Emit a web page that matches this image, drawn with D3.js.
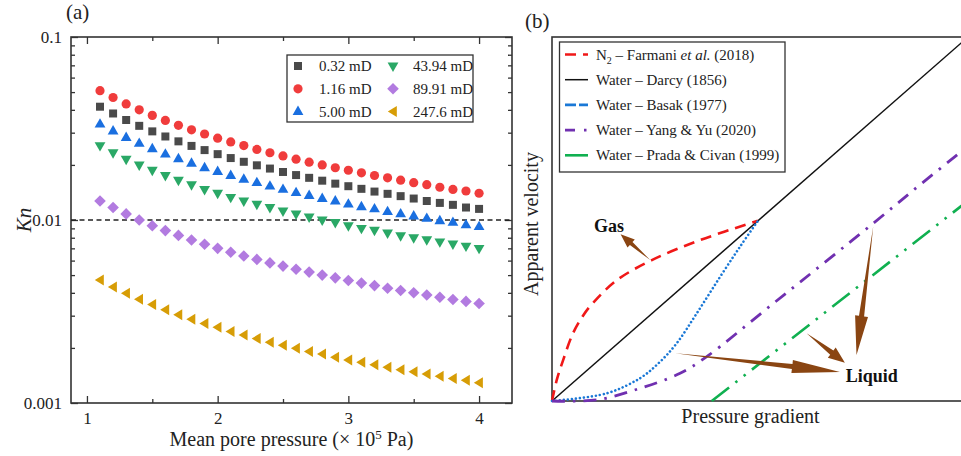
<!DOCTYPE html>
<html><head><meta charset="utf-8">
<script src="https://cdn.jsdelivr.net/npm/d3@7"></script>
<style>
html,body{margin:0;padding:0;background:#fff;}
svg{display:block;font-family:"Liberation Serif","Times New Roman",serif;}
</style></head>
<body>
<svg id="chart" width="961" height="456"></svg>
<script>
// ---------- Panel (a) data ----------
const pressure = [1.1,1.2,1.3,1.4,1.5,1.6,1.7,1.8,1.9,2.0,2.1,2.2,2.3,2.4,2.5,2.6,2.7,2.8,2.9,3.0,3.1,3.2,3.3,3.4,3.5,3.6,3.7,3.8,3.9,4.0];
const seriesLabels = ["0.32 mD","1.16 mD","5.00 mD","43.94 mD","89.91 mD","247.6 mD"];
const kn_032 = [0.0416,0.0382,0.0352,0.0327,0.0305,0.0286,0.0269,0.0254,0.0241,0.0229,0.0218,0.0208,0.0199,0.0191,0.0183,0.0176,0.0170,0.0164,0.0158,0.0153,0.0148,0.0143,0.0139,0.0135,0.0131,0.0127,0.0124,0.0121,0.0117,0.0115];
const kn_116 = [0.0509,0.0467,0.0431,0.0400,0.0373,0.0350,0.0329,0.0311,0.0295,0.0280,0.0267,0.0255,0.0243,0.0233,0.0224,0.0215,0.0207,0.0200,0.0193,0.0187,0.0181,0.0175,0.0170,0.0165,0.0160,0.0156,0.0151,0.0147,0.0144,0.0140];
const kn_500 = [0.0334,0.0306,0.0282,0.0262,0.0245,0.0229,0.0216,0.0204,0.0193,0.0184,0.0175,0.0167,0.0160,0.0153,0.0147,0.0141,0.0136,0.0131,0.0127,0.0122,0.0118,0.0115,0.0111,0.0108,0.0105,0.0102,0.0099,0.0097,0.0094,0.0092];
const kn_4394 = [0.0255,0.0233,0.0215,0.0200,0.0187,0.0175,0.0165,0.0156,0.0147,0.0140,0.0133,0.0127,0.0122,0.0117,0.0112,0.0108,0.0104,0.0100,0.0097,0.0093,0.0090,0.0088,0.0085,0.0082,0.0080,0.0078,0.0076,0.0074,0.0072,0.0070];
const kn_8991 = [0.0127,0.0117,0.0108,0.0100,0.0093,0.00875,0.00824,0.00778,0.00737,0.0070,0.00667,0.00636,0.00609,0.00583,0.0056,0.00538,0.00519,0.0050,0.00483,0.00467,0.00452,0.00438,0.00424,0.00412,0.0040,0.00389,0.00378,0.00368,0.00359,0.0035];
const kn_2476 = [0.0047,0.00431,0.00398,0.00369,0.00345,0.00323,0.00304,0.00287,0.00272,0.00259,0.00246,0.00235,0.00225,0.00215,0.00207,0.00199,0.00191,0.00185,0.00178,0.00172,0.00167,0.00162,0.00157,0.00152,0.00148,0.00144,0.0014,0.00136,0.00133,0.00129];
const seriesValues = [kn_032, kn_116, kn_500, kn_4394, kn_8991, kn_2476];
const seriesColors = ["#4a4a4a","#f03c3c","#1a6fe0","#2aa866","#b27be0","#d79d06"];
const seriesShapes = ["square","circle","triUp","triDown","diamond","triLeft"];
const xTicksA = [1,2,3,4];
const xMinorA = [1.5,2.5,3.5];
const yTicksA = [0.001,0.01,0.1];
const yTickLabelsA = ["0.001","0.01","0.1"];
const knThreshold = 0.01;

// ---------- Panel (b) data (normalised, schematic) ----------
const bLabels = ["Farmani","Darcy","Basak","YangYu","Prada"];
const farmaniN2 = [[0,0],[0.012,0.06],[0.027,0.113],[0.05,0.185],[0.075,0.235],[0.099,0.27],[0.156,0.332],[0.24,0.387],[0.356,0.442],[0.495,0.495]];
const darcyWater = [[0,0],[1,1]];
const basakWater = [[0,0],[0.131,0.021],[0.212,0.063],[0.26,0.108],[0.3,0.159],[0.348,0.241],[0.404,0.341],[0.452,0.424],[0.495,0.495]];
const yangYuWater = [[0,0],[0.107,0.003],[0.212,0.035],[0.308,0.076],[0.372,0.122],[0.532,0.268],[0.772,0.488],[0.889,0.598],[1.0,0.70]];
const pradaCivanWater = [[0.384,0],[1.0,0.55]];
// annotation arrows: [tail, tip] in panel-(b) data units
const gasArrows = [[[0.236,0.387],[0.165,0.458]]];
const liquidArrows = [[[0.296,0.131],[0.692,0.080]],[[0.612,0.186],[0.704,0.105]],[[0.772,0.479],[0.732,0.126]]];
const gasLabelPos = [0.101,0.464];
const liquidLabelPos = [0.706,0.053];

const svg = d3.select("#chart");
svg.append("rect").attr("width",961).attr("height",456).attr("fill","#fff");
const axisColor = "#333";

// ============ PANEL (a) ============
const L=71, R=512, T=37, B=403;
const xA = d3.scaleLinear().domain([0.878, 4.252]).range([L, R]);
const yA = d3.scaleLog().domain([0.001, 0.1]).range([B, T]);
const gA = svg.append("g");

function styleAxis(g){
  g.select(".domain").remove();
  g.selectAll(".tick line").attr("stroke",axisColor).attr("stroke-width",1.3);
  g.selectAll(".tick text").attr("fill","#222").attr("font-family",'"Liberation Serif","Times New Roman",serif').attr("font-size",17);
}
gA.append("g").attr("transform",`translate(0,${B})`)
  .call(d3.axisBottom(xA).tickValues(xTicksA).tickFormat(d3.format("d")).tickSizeInner(-7).tickSizeOuter(0).tickPadding(9))
  .call(styleAxis);
gA.append("g").attr("transform",`translate(0,${B})`)
  .call(d3.axisBottom(xA).tickValues(xMinorA).tickFormat("").tickSizeInner(-4).tickSizeOuter(0)).call(styleAxis);
gA.append("g").attr("transform",`translate(0,${T})`)
  .call(d3.axisTop(xA).tickValues(xTicksA).tickFormat("").tickSizeInner(-7).tickSizeOuter(0)).call(styleAxis);
gA.append("g").attr("transform",`translate(0,${T})`)
  .call(d3.axisTop(xA).tickValues(xMinorA).tickFormat("").tickSizeInner(-4).tickSizeOuter(0)).call(styleAxis);
const yMinorA = [];
[0.001,0.01].forEach(dec=>{for(let k=2;k<=9;k++) yMinorA.push(dec*k);});
gA.append("g").attr("transform",`translate(${L},0)`)
  .call(d3.axisLeft(yA).tickValues(yTicksA).tickFormat((d,i)=>yTickLabelsA[i]).tickSizeInner(-7).tickSizeOuter(0).tickPadding(9))
  .call(styleAxis);
gA.append("g").attr("transform",`translate(${L},0)`)
  .call(d3.axisLeft(yA).tickValues(yMinorA).tickFormat("").tickSizeInner(-4).tickSizeOuter(0)).call(styleAxis);
gA.append("g").attr("transform",`translate(${R},0)`)
  .call(d3.axisRight(yA).tickValues(yTicksA).tickFormat("").tickSizeInner(-7).tickSizeOuter(0)).call(styleAxis);
gA.append("g").attr("transform",`translate(${R},0)`)
  .call(d3.axisRight(yA).tickValues(yMinorA).tickFormat("").tickSizeInner(-4).tickSizeOuter(0)).call(styleAxis);
gA.append("rect").attr("x",L).attr("y",T).attr("width",R-L).attr("height",B-T)
  .attr("fill","none").attr("stroke",axisColor).attr("stroke-width",1.6);
gA.append("line").attr("x1",L).attr("x2",R).attr("y1",yA(knThreshold)).attr("y2",yA(knThreshold))
  .attr("stroke","#222").attr("stroke-width",1.3).attr("stroke-dasharray","5,3.5");

const shapePath = {
  square: "M-4,-4H4V4H-4Z",
  circle: "M4.6,0A4.6,4.6 0 1,1 -4.6,0A4.6,4.6 0 1,1 4.6,0Z",
  triUp: "M0,-6L5.4,3.4L-5.4,3.4Z",
  triDown: "M0,6L5.4,-3.4L-5.4,-3.4Z",
  diamond: "M0,-5.8L5.8,0L0,5.8L-5.8,0Z",
  triLeft: "M-5.2,0L3.8,-5.5L3.8,5.5Z"
};
seriesValues.forEach((vals,si)=>{
  gA.append("g").selectAll("path").data(vals).join("path")
    .attr("d",shapePath[seriesShapes[si]])
    .attr("transform",(d,i)=>`translate(${xA(pressure[i])},${yA(d)})`)
    .attr("fill",seriesColors[si]);
});
const legA = gA.append("g");
legA.append("rect").attr("x",287).attr("y",55).attr("width",186).attr("height",67)
  .attr("fill","#fff").attr("stroke",axisColor).attr("stroke-width",1.3);
seriesLabels.forEach((lab,i)=>{
  const col = Math.floor(i/3), row = i%3;
  const sx = col===0 ? 298 : 393, tx = col===0 ? 319 : 413, cy = 66 + row*22.8;
  legA.append("path").attr("d",shapePath[seriesShapes[i]]).attr("transform",`translate(${sx},${cy})`).attr("fill",seriesColors[i]);
  legA.append("text").attr("x",tx).attr("y",cy+5).attr("font-size",15).attr("fill","#222").text(lab);
});
gA.append("text").attr("x",(L+R)/2).attr("y",446).attr("text-anchor","middle").attr("font-size",20).attr("fill","#222")
  .call(t=>{t.append("tspan").text("Mean pore pressure (× 10");
            t.append("tspan").attr("dy",-7).attr("font-size",13).text("5");
            t.append("tspan").attr("dy",7).text(" Pa)");});
gA.append("text").attr("transform",`translate(31,${(T+B)/2}) rotate(-90)`).attr("text-anchor","middle")
  .attr("font-size",21).attr("font-style","italic").attr("fill","#222").text("Kn");
svg.append("text").attr("x",66).attr("y",19).attr("font-size",21).attr("fill","#222").text("(a)");

// ============ PANEL (b) ============
const bL=552, bR=968, bT=37, bB=401;
const xB = d3.scaleLinear().domain([0,1]).range([bL,bR]);
const yB = d3.scaleLinear().domain([0,1]).range([bB,bT]);
const gB = svg.append("g");
gB.append("rect").attr("x",bL).attr("y",bT).attr("width",bR-bL).attr("height",bB-bT)
  .attr("fill","none").attr("stroke",axisColor).attr("stroke-width",1.6);
const lineB = d3.line().x(d=>xB(d[0])).y(d=>yB(d[1]));
const curveB = d3.line().x(d=>xB(d[0])).y(d=>yB(d[1])).curve(d3.curveCatmullRom.alpha(0.5));

gB.append("path").attr("d",lineB(darcyWater)).attr("fill","none").attr("stroke","#111").attr("stroke-width",1.5);
gB.append("path").attr("d",curveB(farmaniN2)).attr("fill","none").attr("stroke","#f01818").attr("stroke-width",2.6).attr("stroke-dasharray","11,7");
gB.append("path").attr("d",curveB(basakWater)).attr("fill","none").attr("stroke","#1a78d6").attr("stroke-width",2.6)
  .attr("stroke-linecap","round").attr("stroke-dasharray","0.01,4");
gB.append("path").attr("d",curveB(yangYuWater)).attr("fill","none").attr("stroke","#7030b0").attr("stroke-width",2.8).attr("stroke-dasharray","13,8,2.5,8");
gB.append("path").attr("d",lineB(pradaCivanWater)).attr("fill","none").attr("stroke","#10b050").attr("stroke-width",2.6).attr("stroke-dasharray","22,8,2.5,8,2.5,8");

const brown = "#8a4512";
function arrowPoly(tail, tip, hw, sw){
  const t=[xB(tail[0]),yB(tail[1])], p=[xB(tip[0]),yB(tip[1])];
  const dx=p[0]-t[0], dy=p[1]-t[1], len=Math.hypot(dx,dy);
  const ux=dx/len, uy=dy/len, nx=-uy, ny=ux;
  const H = Math.min(0.28*len+3, 48);
  const b=[p[0]-ux*H, p[1]-uy*H];
  const pts=[t,[b[0]+nx*sw,b[1]+ny*sw],[b[0]+nx*hw,b[1]+ny*hw],p,[b[0]-nx*hw,b[1]-ny*hw],[b[0]-nx*sw,b[1]-ny*sw]];
  return "M"+pts.map(q=>q[0].toFixed(1)+","+q[1].toFixed(1)).join("L")+"Z";
}
gasArrows.forEach(a=>gB.append("path").attr("d",arrowPoly(a[0],a[1],5.5,2)).attr("fill",brown));
liquidArrows.forEach(a=>gB.append("path").attr("d",arrowPoly(a[0],a[1],6.5,2.6)).attr("fill",brown));
gB.append("text").attr("x",xB(gasLabelPos[0])).attr("y",yB(gasLabelPos[1])).attr("font-size",18).attr("font-weight","bold").attr("fill","#111").text("Gas");
gB.append("text").attr("x",xB(liquidLabelPos[0])).attr("y",yB(liquidLabelPos[1])).attr("font-size",18).attr("font-weight","bold").attr("fill","#111").text("Liquid");

const legB = gB.append("g");
legB.append("rect").attr("x",559.5).attr("y",42).attr("width",225.5).attr("height",130)
  .attr("fill","#fff").attr("stroke",axisColor).attr("stroke-width",1.3);
const legBStyles = [
  {c:"#f01818", da:"11,7", w:2.6},
  {c:"#111", da:null, w:1.5},
  {c:"#1a78d6", da:"11,3", w:2.6},
  {c:"#7030b0", da:"10,9,2.5,9", w:2.8},
  {c:"#10b050", da:null, w:2.6}
];
bLabels.forEach((k,i)=>{
  const cy = 54.5 + i*25.2;
  const s = legBStyles[i];
  const ln = legB.append("line").attr("x1",565).attr("x2",588).attr("y1",cy).attr("y2",cy).attr("stroke",s.c).attr("stroke-width",s.w);
  if(s.da) ln.attr("stroke-dasharray",s.da);
  const t = legB.append("text").attr("x",596).attr("y",cy+5).attr("font-size",15).attr("fill","#222");
  if(i===0){
    t.append("tspan").text("N");
    t.append("tspan").attr("dy",4).attr("font-size",10).text("2");
    t.append("tspan").attr("dy",-4).text(" – Farmani ");
    t.append("tspan").attr("font-style","italic").text("et al.");
    t.append("tspan").text(" (2018)");
  } else if(i===1){ t.text("Water – Darcy (1856)"); }
  else if(i===2){ t.text("Water – Basak (1977)"); }
  else if(i===3){ t.text("Water – Yang & Yu (2020)"); }
  else { t.text("Water – Prada & Civan (1999)"); }
});
gB.append("text").attr("x",750.5).attr("y",423).attr("text-anchor","middle").attr("font-size",20).attr("fill","#222").text("Pressure gradient");
gB.append("text").attr("transform",`translate(538,224) rotate(-90)`).attr("text-anchor","middle").attr("font-size",20).attr("fill","#222").text("Apparent velocity");
svg.append("text").attr("x",525).attr("y",28).attr("font-size",21).attr("fill","#222").text("(b)");
</script>
</body></html>
